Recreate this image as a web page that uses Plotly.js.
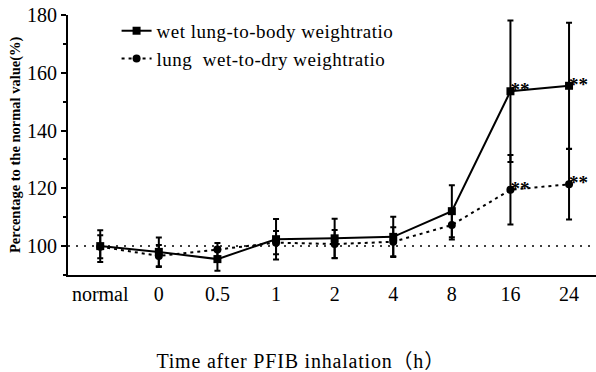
<!DOCTYPE html>
<html>
<head>
<meta charset="utf-8">
<script src="https://cdn.plot.ly/plotly-3.0.1.min.js"></script>
<style>
html,body{margin:0;padding:0;background:#fff;}
#chart{width:596px;height:372px;}
#chart .legendtext{letter-spacing:0.5px;}
#chart .legend .scrollbox{clip-path:none !important;}
#chart g.annotation[data-index="1"] text{letter-spacing:0.8px;}
</style>
</head>
<body>
<div id="chart"></div>
<script>
const categories = ['normal', '0', '0.5', '1', '2', '4', '8', '16', '24'];

const wetBodyName = 'wet lung-to-body weightratio';
const wetBody = [100, 98, 95.5, 102.4, 102.7, 103.2, 112.1, 153.6, 155.5];
const wetBodyErr = [5.5, 5, 4, 7, 6.8, 7, 9, 24.5, 21.8];

const wetDryName = 'lung  wet-to-dry weightratio';
const wetDry = [99.8, 96.6, 98.8, 101.2, 100.7, 101.5, 107.3, 119.5, 121.4];
const wetDryErr = [4, 3.8, 2.3, 4, 4.9, 5, 5, 12, 12.2];

const sigLabels = ['', '', '', '', '', '', '', '**', '**'];
const xTitle = 'Time after PFIB inhalation（h）';
const yTitle = 'Percentage to the normal value(%)';
const yTicks = [100, 120, 140, 160, 180];

const serif = 'Liberation Serif, Noto Sans CJK SC, serif';

const traces = [
  {
    x: categories, y: wetBody, name: wetBodyName, type: 'scatter', mode: 'lines+markers',
    line: {color: '#000', width: 2, dash: 'solid'},
    marker: {color: '#000', size: 8, symbol: 'square'},
    error_y: {type: 'data', array: wetBodyErr, visible: true, color: '#000', thickness: 2, width: 3}
  },
  {
    x: categories, y: wetDry, name: wetDryName, type: 'scatter', mode: 'lines+markers',
    line: {color: '#000', width: 2, dash: '3px,4px'},
    marker: {color: '#000', size: 8, symbol: 'circle'},
    error_y: {type: 'data', array: wetDryErr, visible: true, color: '#000', thickness: 2, width: 3}
  },
  {
    x: categories, y: wetBody, text: sigLabels, type: 'scatter', mode: 'text', showlegend: false,
    textposition: 'middle right', textfont: {family: serif, size: 19, color: '#000', weight: 'bold'}, hoverinfo: 'skip'
  },
  {
    x: categories, y: wetDry, text: sigLabels, type: 'scatter', mode: 'text', showlegend: false,
    textposition: 'middle right', textfont: {family: serif, size: 19, color: '#000', weight: 'bold'}, hoverinfo: 'skip'
  }
];

const layout = {
  width: 596, height: 372,
  margin: {l: 68, r: 0, t: 15, b: 97},
  paper_bgcolor: '#fff', plot_bgcolor: '#fff',
  font: {family: serif, color: '#000', size: 18},
  showlegend: true,
  legend: {
    x: 0.092, y: 1.012, xanchor: 'left', yanchor: 'top',
    bgcolor: 'rgba(0,0,0,0)', font: {family: serif, size: 19, color: '#000'},
    tracegroupgap: 0, itemwidth: 30
  },
  xaxis: {
    type: 'category', range: [-0.55, 8.46], showgrid: false, zeroline: false,
    showline: true, linecolor: '#000', linewidth: 2, ticks: '',
    tickfont: {family: serif, size: 20, color: '#000'}
  },
  yaxis: {
    range: [90, 180], showgrid: false, zeroline: false,
    showline: true, linecolor: '#000', linewidth: 2,
    tickvals: yTicks, ticks: 'outside', ticklen: 5, tickwidth: 2, tickcolor: '#000',
    minor: {dtick: 10, tick0: 90, ticks: 'outside', ticklen: 3, tickwidth: 2, tickcolor: '#000'},
    tickfont: {family: serif, size: 20, color: '#000'}
  },
  shapes: [
    {type: 'line', xref: 'paper', yref: 'y', x0: 0, x1: 1, y0: 100, y1: 100,
     line: {color: '#000', width: 1.5, dash: '2px,6px'}, layer: 'below'}
  ],
  annotations: [
    {text: yTitle, xref: 'paper', yref: 'paper', x: 0, y: 0.5, xanchor: 'center', yanchor: 'middle',
     xshift: -53, textangle: -90, showarrow: false,
     font: {family: serif, size: 14.5, color: '#000', weight: 'bold'}},
    {text: xTitle, xref: 'paper', yref: 'paper', x: 0.44, y: 0, xanchor: 'center', yanchor: 'middle',
     yshift: -86, showarrow: false, font: {family: serif, size: 20, color: '#000'}}
  ]
};

Plotly.newPlot('chart', traces, layout, {staticPlot: true, displayModeBar: false});
</script>
</body>
</html>
